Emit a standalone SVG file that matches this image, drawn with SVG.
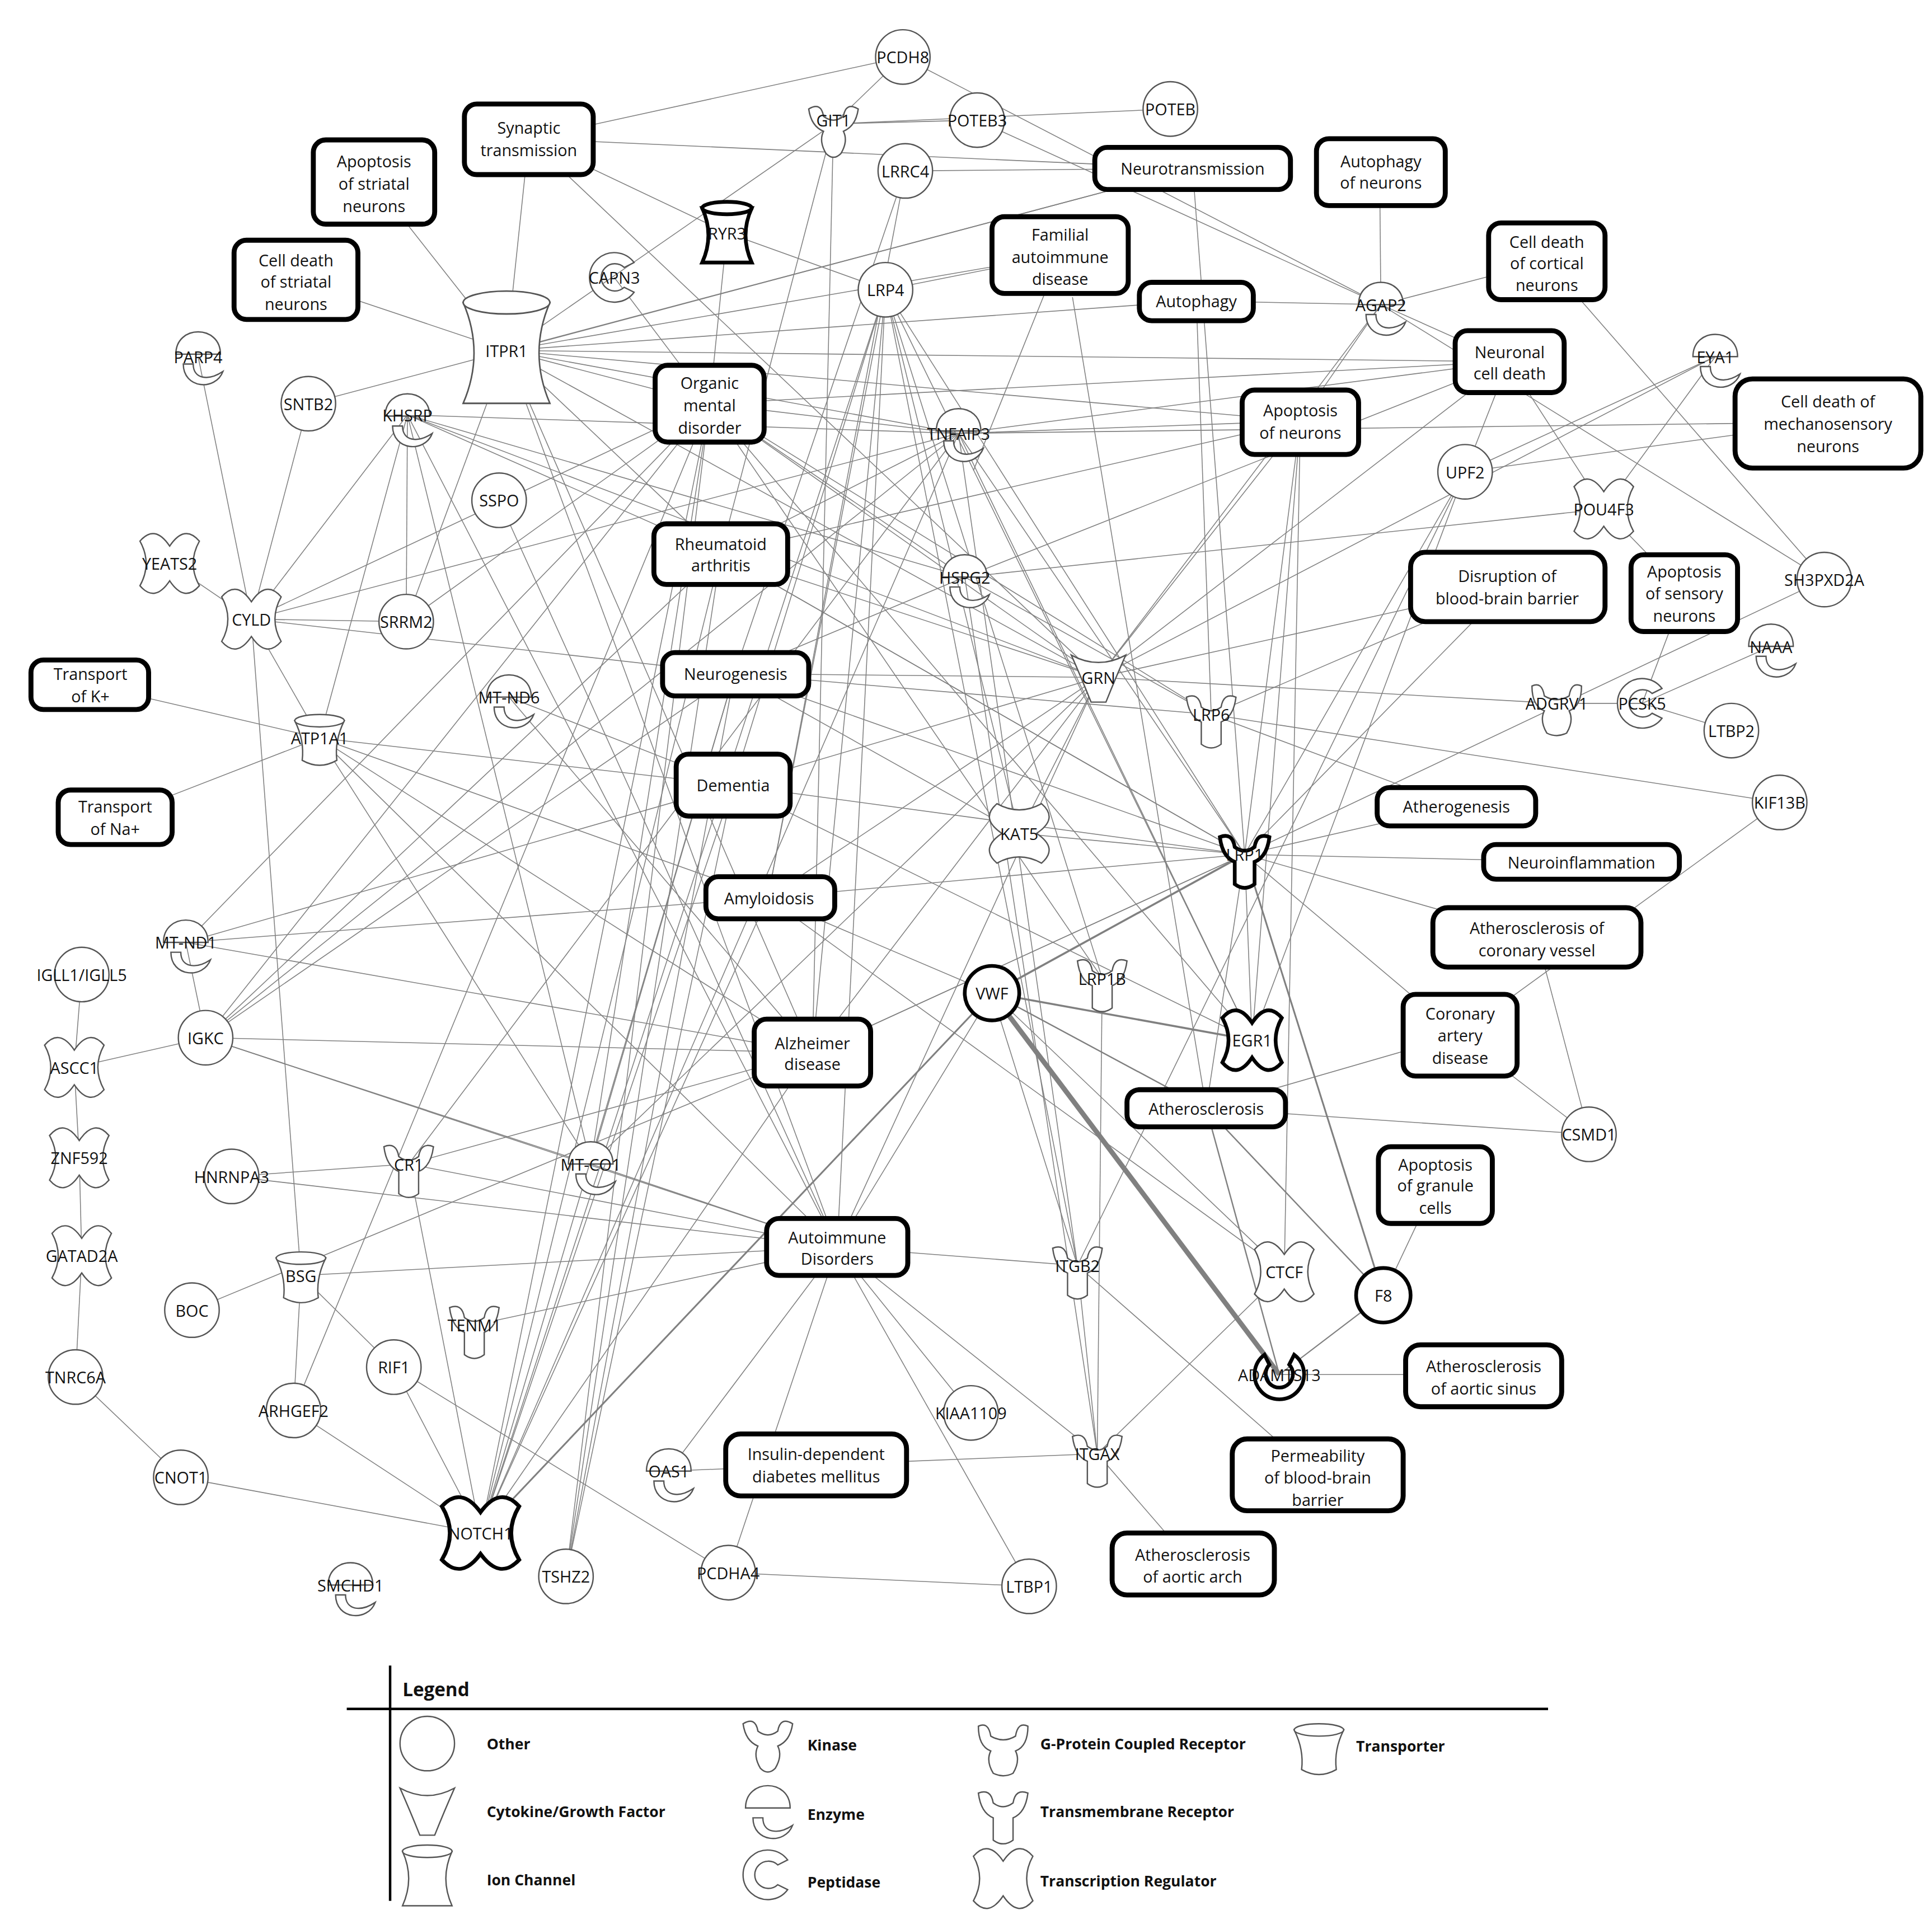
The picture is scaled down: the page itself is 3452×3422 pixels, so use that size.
<svg xmlns="http://www.w3.org/2000/svg" width="3452" height="3422" viewBox="0 0 3452 3422">
<style>
.e line{stroke:#808080;stroke-width:0.7;fill:none}
.s use{fill:#fff;stroke:#555;stroke-width:1.1}
.s .b use, .b use{fill:#fff;stroke:#000;stroke-width:3}
.f rect{fill:#fff;stroke:#000;stroke-width:4}
text{font-family:"Open Sans","Liberation Sans",sans-serif;font-size:13px;fill:#111;text-anchor:middle;dominant-baseline:central}
.lg text{font-size:12px;font-weight:bold;text-anchor:start}
</style>
<defs>
<g id="other"><circle r="22"/></g>
<g id="tf"><path d="M-24,-18 Q-12,-32 0,-14 Q12,-32 24,-18 Q14,0 24,18 Q12,32 0,14 Q-12,32 -24,18 Q-14,0 -24,-18 Z"/></g>
<g id="enz"><path d="M-18,-2 C-18,-26 18,-26 18,-2 Z"/><path d="M-12,6 C-12,26 14,28 20,12 C8,20 -4,18 -4,6 Z"/></g>
<g id="ion"><path d="M-20,-22 Q-10,0 -20,22 L20,22 Q10,0 20,-22 Z"/><ellipse cx="0" cy="-22" rx="20" ry="5"/></g>
<g id="trp"><path d="M-20,-16 L20,-16 Q12,0 14,16 Q0,24 -14,16 Q-12,0 -20,-16 Z"/><ellipse cx="0" cy="-16" rx="20" ry="5"/></g>
<g id="kin"><path d="M-20,-16 Q-10,-22 -8,-10 Q0,-4 8,-10 Q10,-22 20,-16 Q18,-2 8,2 Q12,10 6,20 Q0,26 -6,20 Q-12,10 -8,2 Q-18,-2 -20,-16 Z"/></g>
<g id="tm"><path d="M-20,-16 Q-10,-20 -8,-8 Q0,-2 8,-8 Q10,-20 20,-16 Q18,0 8,4 L8,22 Q0,28 -8,22 L-8,4 Q-18,0 -20,-16 Z"/></g>
<g id="gpcr"><path d="M-20,-16 Q-12,-20 -10,-8 Q0,-2 10,-8 Q12,-20 20,-16 Q20,0 10,4 Q14,12 8,22 Q0,26 -8,22 Q-14,12 -10,4 Q-20,0 -20,-16 Z"/></g>
<g id="pep"><path d="M16,-12 A20,20 0 1 0 16,12 L8,8 A11,11 0 1 1 8,-8 Z"/></g>
<g id="cyt"><path d="M-22,-18 Q0,-6 22,-18 Q14,0 6,20 L-6,20 Q-14,0 -22,-18 Z"/></g>
</defs>
<rect width="3452" height="3422" fill="#fff"/>
<g transform="scale(2.2128)">
<g id="connectors" class="e">
<line x1="729" y1="46" x2="427" y2="112"/><line x1="729" y1="46" x2="1115" y2="246"/><line x1="729" y1="46" x2="673" y2="100"/>
<line x1="673" y1="100" x2="789" y2="97"/><line x1="673" y1="100" x2="409" y2="283"/><line x1="673" y1="100" x2="945" y2="88"/>
<line x1="427" y1="112" x2="963" y2="136"/><line x1="427" y1="112" x2="409" y2="283"/><line x1="427" y1="112" x2="887" y2="547"/><line x1="427" y1="112" x2="587" y2="188"/>
<line x1="789" y1="97" x2="1115" y2="246"/><line x1="963" y1="136" x2="731" y2="138"/><line x1="963" y1="136" x2="409" y2="283"/><line x1="963" y1="136" x2="1005" y2="690"/>
<line x1="302" y1="147" x2="409" y2="283"/><line x1="239" y1="226" x2="409" y2="283"/><line x1="249" y1="326" x2="963" y2="136"/>
<line x1="587" y1="188" x2="715" y2="234"/><line x1="587" y1="188" x2="573" y2="326"/><line x1="496" y1="224" x2="573" y2="326"/>
<line x1="409" y1="283" x2="856" y2="206"/><line x1="409" y1="283" x2="966" y2="243"/><line x1="409" y1="283" x2="1218" y2="292"/><line x1="409" y1="283" x2="1050" y2="340"/>
<line x1="409" y1="283" x2="774" y2="350"/><line x1="409" y1="283" x2="582" y2="447"/><line x1="409" y1="283" x2="328" y2="502"/><line x1="409" y1="283" x2="656" y2="850"/><line x1="409" y1="283" x2="676" y2="1007"/><line x1="409" y1="283" x2="573" y2="326"/><line x1="409" y1="283" x2="887" y2="547"/>
<line x1="715" y1="234" x2="856" y2="206"/><line x1="715" y1="234" x2="656" y2="850"/><line x1="715" y1="234" x2="676" y2="1007"/><line x1="715" y1="234" x2="1005" y2="690"/><line x1="715" y1="234" x2="870" y2="1022"/><line x1="715" y1="234" x2="388" y2="1238"/><line x1="715" y1="234" x2="823" y2="673"/><line x1="715" y1="234" x2="592" y2="634"/><line x1="715" y1="234" x2="620" y2="725"/><line x1="715" y1="234" x2="1011" y2="840"/>
<line x1="731" y1="138" x2="593" y2="544"/><line x1="731" y1="138" x2="620" y2="725"/><line x1="673" y1="100" x2="582" y2="447"/><line x1="673" y1="100" x2="656" y2="850"/>
<line x1="1115" y1="246" x2="966" y2="243"/><line x1="1115" y1="246" x2="1114" y2="138"/><line x1="1115" y1="246" x2="1249" y2="211"/><line x1="1115" y1="246" x2="1218" y2="292"/><line x1="1115" y1="246" x2="1050" y2="340"/><line x1="1115" y1="246" x2="887" y2="547"/><line x1="1115" y1="246" x2="1473" y2="468"/>
<line x1="1218" y1="292" x2="1183" y2="381"/><line x1="1218" y1="292" x2="1295" y2="411"/><line x1="1218" y1="292" x2="573" y2="326"/><line x1="1218" y1="292" x2="774" y2="350"/><line x1="1218" y1="292" x2="887" y2="547"/>
<line x1="1385" y1="288" x2="1183" y2="381"/><line x1="1385" y1="288" x2="1295" y2="411"/><line x1="1385" y1="288" x2="887" y2="547"/>
<line x1="1183" y1="381" x2="1005" y2="690"/><line x1="1183" y1="381" x2="870" y2="1022"/><line x1="1183" y1="381" x2="1476" y2="341"/><line x1="1295" y1="411" x2="1360" y2="478"/><line x1="1295" y1="411" x2="779" y2="466"/>
<line x1="1473" y1="468" x2="1249" y2="211"/><line x1="1473" y1="468" x2="1005" y2="690"/><line x1="1437" y1="648" x2="1178" y2="836"/>
<line x1="1326" y1="568" x2="1430" y2="522"/><line x1="1326" y1="568" x2="1398" y2="590"/><line x1="1326" y1="568" x2="1257" y2="568"/><line x1="1326" y1="568" x2="1360" y2="478"/><line x1="1257" y1="568" x2="887" y2="547"/>
<line x1="978" y1="577" x2="1437" y2="648"/><line x1="978" y1="577" x2="593" y2="544"/><line x1="978" y1="577" x2="573" y2="326"/><line x1="978" y1="577" x2="1176" y2="651"/><line x1="978" y1="577" x2="1217" y2="474"/>
<line x1="1005" y1="690" x2="1176" y2="651"/><line x1="1005" y1="690" x2="1277" y2="696"/><line x1="1005" y1="690" x2="1241" y2="757"/><line x1="1005" y1="690" x2="1178" y2="836"/><line x1="1005" y1="690" x2="1011" y2="840"/><line x1="1005" y1="690" x2="974" y2="895"/><line x1="1005" y1="690" x2="823" y2="673"/><line x1="1005" y1="690" x2="592" y2="634"/><line x1="1005" y1="690" x2="620" y2="725"/><line x1="1005" y1="690" x2="656" y2="850"/><line x1="1005" y1="690" x2="582" y2="447"/><line x1="1005" y1="690" x2="1217" y2="474"/><line x1="1005" y1="690" x2="1050" y2="340"/>
<line x1="801" y1="802" x2="974" y2="895"/><line x1="801" y1="802" x2="676" y2="1007"/><line x1="801" y1="802" x2="870" y2="1022"/><line x1="801" y1="802" x2="1037" y2="1027"/><line x1="801" y1="802" x2="620" y2="725"/>
<line x1="974" y1="895" x2="1283" y2="916"/><line x1="974" y1="895" x2="1178" y2="836"/><line x1="1117" y1="1046" x2="1159" y2="957"/><line x1="1033" y1="1110" x2="1197" y2="1110"/>
<line x1="1283" y1="916" x2="1241" y2="757"/><line x1="1283" y1="916" x2="1178" y2="836"/>
<line x1="870" y1="1022" x2="1064" y2="1192"/><line x1="870" y1="1022" x2="676" y2="1007"/><line x1="870" y1="1022" x2="886" y2="1174"/>
<line x1="886" y1="1174" x2="659" y2="1183"/><line x1="886" y1="1174" x2="963" y2="1263"/><line x1="886" y1="1174" x2="676" y2="1007"/><line x1="886" y1="1174" x2="1037" y2="1027"/><line x1="886" y1="1174" x2="779" y2="466"/>
<line x1="676" y1="1007" x2="330" y2="940"/><line x1="676" y1="1007" x2="477" y2="940"/><line x1="676" y1="1007" x2="243" y2="1030"/><line x1="676" y1="1007" x2="187" y2="950"/><line x1="676" y1="1007" x2="166" y2="838"/><line x1="676" y1="1007" x2="831" y2="1281"/><line x1="676" y1="1007" x2="784" y2="1141"/><line x1="676" y1="1007" x2="540" y2="1188"/><line x1="676" y1="1007" x2="383" y2="1070"/><line x1="676" y1="1007" x2="887" y2="547"/><line x1="676" y1="1007" x2="403" y2="404"/><line x1="676" y1="1007" x2="329" y2="335"/>
<line x1="540" y1="1188" x2="659" y2="1183"/><line x1="588" y1="1270" x2="831" y2="1281"/><line x1="588" y1="1270" x2="318" y2="1104"/><line x1="588" y1="1270" x2="676" y2="1007"/>
<line x1="388" y1="1238" x2="146" y2="1193"/><line x1="388" y1="1238" x2="318" y2="1104"/><line x1="388" y1="1238" x2="330" y2="940"/><line x1="388" y1="1238" x2="237" y2="1139"/><line x1="388" y1="1238" x2="573" y2="326"/><line x1="388" y1="1238" x2="582" y2="447"/><line x1="388" y1="1238" x2="593" y2="544"/><line x1="388" y1="1238" x2="592" y2="634"/><line x1="388" y1="1238" x2="620" y2="725"/><line x1="388" y1="1238" x2="656" y2="850"/><line x1="388" y1="1238" x2="774" y2="350"/>
<line x1="457" y1="1273" x2="573" y2="326"/><line x1="457" y1="1273" x2="582" y2="447"/><line x1="457" y1="1273" x2="593" y2="544"/><line x1="457" y1="1273" x2="592" y2="634"/>
<line x1="243" y1="1030" x2="318" y2="1104"/><line x1="243" y1="1030" x2="237" y2="1139"/><line x1="243" y1="1030" x2="203" y2="500"/><line x1="155" y1="1058" x2="656" y2="850"/><line x1="237" y1="1139" x2="573" y2="326"/>
<line x1="61" y1="1112" x2="146" y2="1193"/><line x1="61" y1="1112" x2="66" y2="1014"/><line x1="66" y1="1014" x2="64" y2="935"/><line x1="64" y1="935" x2="60" y2="862"/><line x1="60" y1="862" x2="66" y2="787"/><line x1="60" y1="862" x2="166" y2="838"/>
<line x1="166" y1="838" x2="150" y2="761"/><line x1="166" y1="838" x2="656" y2="850"/><line x1="166" y1="838" x2="477" y2="940"/><line x1="166" y1="838" x2="573" y2="326"/><line x1="166" y1="838" x2="582" y2="447"/><line x1="166" y1="838" x2="593" y2="544"/><line x1="166" y1="838" x2="774" y2="350"/>
<line x1="150" y1="761" x2="620" y2="725"/><line x1="150" y1="761" x2="592" y2="634"/><line x1="150" y1="761" x2="656" y2="850"/><line x1="150" y1="761" x2="573" y2="326"/>
<line x1="258" y1="596" x2="73" y2="553"/><line x1="258" y1="596" x2="93" y2="660"/><line x1="258" y1="596" x2="592" y2="634"/><line x1="258" y1="596" x2="620" y2="725"/><line x1="258" y1="596" x2="656" y2="850"/><line x1="258" y1="596" x2="203" y2="500"/><line x1="258" y1="596" x2="329" y2="335"/><line x1="258" y1="596" x2="676" y2="1007"/><line x1="258" y1="596" x2="477" y2="940"/>
<line x1="203" y1="500" x2="137" y2="455"/><line x1="203" y1="500" x2="160" y2="288"/><line x1="203" y1="500" x2="249" y2="326"/><line x1="203" y1="500" x2="328" y2="502"/><line x1="203" y1="500" x2="329" y2="335"/><line x1="203" y1="500" x2="573" y2="326"/><line x1="203" y1="500" x2="774" y2="350"/><line x1="203" y1="500" x2="593" y2="544"/>
<line x1="328" y1="502" x2="573" y2="326"/><line x1="328" y1="502" x2="329" y2="335"/>
<line x1="329" y1="335" x2="774" y2="350"/><line x1="329" y1="335" x2="582" y2="447"/><line x1="329" y1="335" x2="887" y2="547"/><line x1="329" y1="335" x2="779" y2="466"/><line x1="329" y1="335" x2="477" y2="940"/>
<line x1="411" y1="563" x2="592" y2="634"/><line x1="411" y1="563" x2="656" y2="850"/>
<line x1="779" y1="466" x2="573" y2="326"/><line x1="779" y1="466" x2="593" y2="544"/><line x1="779" y1="466" x2="978" y2="577"/><line x1="779" y1="466" x2="1218" y2="292"/>
<line x1="774" y1="350" x2="573" y2="326"/><line x1="774" y1="350" x2="582" y2="447"/><line x1="774" y1="350" x2="1050" y2="340"/><line x1="774" y1="350" x2="1005" y2="690"/><line x1="774" y1="350" x2="870" y2="1022"/><line x1="774" y1="350" x2="1011" y2="840"/><line x1="774" y1="350" x2="1476" y2="341"/><line x1="774" y1="350" x2="330" y2="940"/>
<line x1="887" y1="547" x2="573" y2="326"/><line x1="887" y1="547" x2="582" y2="447"/><line x1="887" y1="547" x2="593" y2="544"/><line x1="887" y1="547" x2="592" y2="634"/><line x1="887" y1="547" x2="620" y2="725"/><line x1="887" y1="547" x2="656" y2="850"/><line x1="887" y1="547" x2="1050" y2="340"/><line x1="887" y1="547" x2="1217" y2="474"/><line x1="887" y1="547" x2="477" y2="940"/>
<line x1="823" y1="673" x2="887" y2="547"/><line x1="823" y1="673" x2="593" y2="544"/><line x1="890" y1="790" x2="573" y2="326"/><line x1="890" y1="790" x2="715" y2="234"/><line x1="890" y1="790" x2="886" y2="1174"/>
<line x1="1011" y1="840" x2="1050" y2="340"/><line x1="1011" y1="840" x2="573" y2="326"/><line x1="1011" y1="840" x2="1183" y2="381"/>
<line x1="582" y1="447" x2="1050" y2="340"/><line x1="582" y1="447" x2="1005" y2="690"/><line x1="593" y1="544" x2="1005" y2="690"/><line x1="592" y1="634" x2="1011" y2="840"/><line x1="620" y1="725" x2="1037" y2="1027"/><line x1="656" y1="850" x2="1005" y2="690"/>
<line x1="330" y1="940" x2="656" y2="850"/><line x1="477" y1="940" x2="573" y2="326"/><line x1="477" y1="940" x2="593" y2="544"/><line x1="330" y1="940" x2="187" y2="950"/>
<line x1="856" y1="206" x2="786" y2="380"/><line x1="866" y1="240" x2="974" y2="895"/><line x1="966" y1="243" x2="978" y2="577"/><line x1="1050" y1="340" x2="1037" y2="1027"/>
<g style="stroke:#000">
<line x1="801" y1="802" x2="1005" y2="690" style="stroke-width:1.6"/>
<line x1="801" y1="802" x2="1011" y2="840" style="stroke-width:1.6"/>
<line x1="801" y1="802" x2="1033" y2="1110" style="stroke-width:4"/>
<line x1="1005" y1="690" x2="1117" y2="1046" style="stroke-width:1.4"/>
<line x1="801" y1="802" x2="388" y2="1238" style="stroke-width:1.4"/>
<line x1="801" y1="802" x2="974" y2="895" style="stroke-width:1.1"/>
<line x1="974" y1="895" x2="1033" y2="1110" style="stroke-width:1.1"/>
<line x1="974" y1="895" x2="1117" y2="1046" style="stroke-width:1.1"/>
<line x1="1117" y1="1046" x2="1033" y2="1110" style="stroke-width:1"/>
</g>
</g>
<g id="genes" class="s">
<g id="n-PCDH8"><use href="#other" x="729" y="46"/><text x="729" y="46">PCDH8</text></g>
<g id="n-GIT1"><use href="#kin" x="673" y="104"/><text x="673" y="97">GIT1</text></g>
<g id="n-POTEB3"><use href="#other" x="789" y="97"/><text x="789" y="97">POTEB3</text></g>
<g id="n-POTEB"><use href="#other" x="945" y="88"/><text x="945" y="88">POTEB</text></g>
<g id="n-LRRC4"><use href="#other" x="731" y="138"/><text x="731" y="138">LRRC4</text></g>
<g id="n-RYR3" class="b"><use href="#ion" x="587" y="190"/><text x="587" y="188">RYR3</text></g>
<g id="n-CAPN3"><use href="#pep" x="496" y="224"/><text x="496" y="224">CAPN3</text></g>
<g id="n-LRP4"><use href="#other" x="715" y="234"/><text x="715" y="234">LRP4</text></g>
<g id="n-ITPR1"><use href="#ion" transform="translate(409,285) scale(1.75,1.85)" style="stroke-width:0.7"/><text x="409" y="283">ITPR1</text></g>
<g id="n-PARP4"><use href="#enz" x="160" y="288"/><text x="160" y="288">PARP4</text></g>
<g id="n-SNTB2"><use href="#other" x="249" y="326"/><text x="249" y="326">SNTB2</text></g>
<g id="n-KHSRP"><use href="#enz" x="329" y="338"/><text x="329" y="335">KHSRP</text></g>
<g id="n-SSPO"><use href="#other" x="403" y="404"/><text x="403" y="404">SSPO</text></g>
<g id="n-TNFAIP3"><use href="#enz" x="774" y="350"/><text x="774" y="350">TNFAIP3</text></g>
<g id="n-AGAP2"><use href="#enz" x="1115" y="248"/><text x="1115" y="246">AGAP2</text></g>
<g id="n-EYA1"><use href="#enz" x="1385" y="290"/><text x="1385" y="288">EYA1</text></g>
<g id="n-UPF2"><use href="#other" x="1183" y="381"/><text x="1183" y="381">UPF2</text></g>
<g id="n-POU4F3"><use href="#tf" x="1295" y="411"/><text x="1295" y="411">POU4F3</text></g>
<g id="n-SH3PXD2A"><use href="#other" x="1473" y="468"/><text x="1473" y="468">SH3PXD2A</text></g>
<g id="n-NAAA"><use href="#enz" x="1430" y="524"/><text x="1430" y="522">NAAA</text></g>
<g id="n-PCSK5"><use href="#pep" x="1326" y="568"/><text x="1326" y="568">PCSK5</text></g>
<g id="n-LTBP2"><use href="#other" x="1398" y="590"/><text x="1398" y="590">LTBP2</text></g>
<g id="n-ADGRV1"><use href="#gpcr" x="1257" y="570"/><text x="1257" y="568">ADGRV1</text></g>
<g id="n-KIF13B"><use href="#other" x="1437" y="648"/><text x="1437" y="648">KIF13B</text></g>
<g id="n-HSPG2"><use href="#enz" x="779" y="468"/><text x="779" y="466">HSPG2</text></g>
<g id="n-GRN"><use href="#cyt" x="887" y="547"/><text x="887" y="547">GRN</text></g>
<g id="n-LRP6"><use href="#tm" x="978" y="579"/><text x="978" y="577">LRP6</text></g>
<g id="n-KAT5"><use href="#tf" transform="translate(823,673) rotate(90)"/><text x="823" y="673">KAT5</text></g>
<g id="n-LRP1" class="b"><use href="#tm" x="1005" y="692"/><text x="1005" y="690">LRP1</text></g>
<g id="n-LRP1B"><use href="#tm" x="890" y="792"/><text x="890" y="790">LRP1B</text></g>
<g id="n-VWF" class="b"><use href="#other" x="801" y="802"/><text x="801" y="802">VWF</text></g>
<g id="n-EGR1" class="b"><use href="#tf" x="1011" y="840"/><text x="1011" y="840">EGR1</text></g>
<g id="n-MT-ND6"><use href="#enz" x="411" y="565"/><text x="411" y="563">MT-ND6</text></g>
<g id="n-YEATS2"><use href="#tf" x="137" y="455"/><text x="137" y="455">YEATS2</text></g>
<g id="n-CYLD"><use href="#tf" x="203" y="500"/><text x="203" y="500">CYLD</text></g>
<g id="n-SRRM2"><use href="#other" x="328" y="502"/><text x="328" y="502">SRRM2</text></g>
<g id="n-ATP1A1"><use href="#trp" x="258" y="598"/><text x="258" y="596">ATP1A1</text></g>
<g id="n-MT-ND1"><use href="#enz" x="150" y="763"/><text x="150" y="761">MT-ND1</text></g>
<g id="n-IGLL1"><use href="#other" x="66" y="787"/><text x="66" y="787">IGLL1/IGLL5</text></g>
<g id="n-IGKC"><use href="#other" x="166" y="838"/><text x="166" y="838">IGKC</text></g>
<g id="n-ASCC1"><use href="#tf" x="60" y="862"/><text x="60" y="862">ASCC1</text></g>
<g id="n-ZNF592"><use href="#tf" x="64" y="935"/><text x="64" y="935">ZNF592</text></g>
<g id="n-GATAD2A"><use href="#tf" x="66" y="1014"/><text x="66" y="1014">GATAD2A</text></g>
<g id="n-TNRC6A"><use href="#other" x="61" y="1112"/><text x="61" y="1112">TNRC6A</text></g>
<g id="n-CNOT1"><use href="#other" x="146" y="1193"/><text x="146" y="1193">CNOT1</text></g>
<g id="n-HNRNPA3"><use href="#other" x="187" y="950"/><text x="187" y="950">HNRNPA3</text></g>
<g id="n-CR1"><use href="#tm" x="330" y="942"/><text x="330" y="940">CR1</text></g>
<g id="n-MT-CO1"><use href="#enz" x="477" y="942"/><text x="477" y="940">MT-CO1</text></g>
<g id="n-BSG"><use href="#trp" x="243" y="1032"/><text x="243" y="1030">BSG</text></g>
<g id="n-BOC"><use href="#other" x="155" y="1058"/><text x="155" y="1058">BOC</text></g>
<g id="n-RIF1"><use href="#other" x="318" y="1104"/><text x="318" y="1104">RIF1</text></g>
<g id="n-TENM1"><use href="#tm" x="383" y="1072"/><text x="383" y="1070">TENM1</text></g>
<g id="n-ARHGEF2"><use href="#other" x="237" y="1139"/><text x="237" y="1139">ARHGEF2</text></g>
<g id="n-SMCHD1"><use href="#enz" x="283" y="1282"/><text x="283" y="1280">SMCHD1</text></g>
<g id="n-NOTCH1" class="b"><use href="#tf" transform="translate(388,1238) scale(1.3,1.2)" style="stroke-width:2.5"/><text x="388" y="1238">NOTCH1</text></g>
<g id="n-TSHZ2"><use href="#other" x="457" y="1273"/><text x="457" y="1273">TSHZ2</text></g>
<g id="n-OAS1"><use href="#enz" x="540" y="1190"/><text x="540" y="1188">OAS1</text></g>
<g id="n-PCDHA4"><use href="#other" x="588" y="1270"/><text x="588" y="1270">PCDHA4</text></g>
<g id="n-KIAA1109"><use href="#other" x="784" y="1141"/><text x="784" y="1141">KIAA1109</text></g>
<g id="n-LTBP1"><use href="#other" x="831" y="1281"/><text x="831" y="1281">LTBP1</text></g>
<g id="n-ITGAX"><use href="#tm" x="886" y="1176"/><text x="886" y="1174">ITGAX</text></g>
<g id="n-ITGB2"><use href="#tm" x="870" y="1024"/><text x="870" y="1022">ITGB2</text></g>
<g id="n-CTCF"><use href="#tf" x="1037" y="1027"/><text x="1037" y="1027">CTCF</text></g>
<g id="n-F8" class="b"><use href="#other" x="1117" y="1046"/><text x="1117" y="1046">F8</text></g>
<g id="n-ADAMTS13" class="b"><use href="#pep" transform="translate(1033,1110) rotate(-90)"/><text x="1033" y="1110">ADAMTS13</text></g>
<g id="n-CSMD1"><use href="#other" x="1283" y="916"/><text x="1283" y="916">CSMD1</text></g>
</g>
<g id="functions" class="f">
<g id="f-syn"><rect x="375" y="84" width="104" height="57" rx="10"/><text x="427" y="103">Synaptic</text><text x="427" y="121">transmission</text></g>
<g id="f-aps"><rect x="253" y="113" width="98" height="68" rx="10"/><text x="302" y="130">Apoptosis</text><text x="302" y="148">of striatal</text><text x="302" y="166">neurons</text></g>
<g id="f-cds"><rect x="189" y="194" width="100" height="64" rx="10"/><text x="239" y="210">Cell death</text><text x="239" y="227">of striatal</text><text x="239" y="245">neurons</text></g>
<g id="f-nt"><rect x="884" y="119" width="158" height="34" rx="10"/><text x="963" y="136">Neurotransmission</text></g>
<g id="f-an"><rect x="1063" y="112" width="104" height="54" rx="10"/><text x="1115" y="130">Autophagy</text><text x="1115" y="147">of neurons</text></g>
<g id="f-fam"><rect x="801" y="175" width="110" height="62" rx="10"/><text x="856" y="189">Familial</text><text x="856" y="207">autoimmune</text><text x="856" y="225">disease</text></g>
<g id="f-aut"><rect x="920" y="228" width="92" height="31" rx="10"/><text x="966" y="243">Autophagy</text></g>
<g id="f-cdc"><rect x="1202" y="180" width="94" height="62" rx="10"/><text x="1249" y="195">Cell death</text><text x="1249" y="212">of cortical</text><text x="1249" y="230">neurons</text></g>
<g id="f-ncd"><rect x="1175" y="267" width="88" height="50" rx="10"/><text x="1219" y="284">Neuronal</text><text x="1219" y="301">cell death</text></g>
<g id="f-omd"><rect x="529" y="295" width="88" height="62" rx="10"/><text x="573" y="309">Organic</text><text x="573" y="327">mental</text><text x="573" y="345">disorder</text></g>
<g id="f-apn"><rect x="1003" y="315" width="94" height="52" rx="10"/><text x="1050" y="331">Apoptosis</text><text x="1050" y="349">of neurons</text></g>
<g id="f-mech"><rect x="1401" y="306" width="150" height="72" rx="14"/><text x="1476" y="324">Cell death of</text><text x="1476" y="342">mechanosensory</text><text x="1476" y="360">neurons</text></g>
<g id="f-ra"><rect x="528" y="423" width="108" height="49" rx="10"/><text x="582" y="439">Rheumatoid</text><text x="582" y="456">arthritis</text></g>
<g id="f-dbbb"><rect x="1139" y="446" width="157" height="56" rx="12"/><text x="1217" y="465">Disruption of</text><text x="1217" y="483">blood-brain barrier</text></g>
<g id="f-aps2"><rect x="1317" y="448" width="86" height="62" rx="10"/><text x="1360" y="461">Apoptosis</text><text x="1360" y="479">of sensory</text><text x="1360" y="497">neurons</text></g>
<g id="f-ng"><rect x="535" y="527" width="118" height="35" rx="10"/><text x="594" y="544">Neurogenesis</text></g>
<g id="f-tk"><rect x="25" y="533" width="95" height="40" rx="10"/><text x="73" y="544">Transport</text><text x="73" y="562">of K+</text></g>
<g id="f-dem"><rect x="546" y="609" width="92" height="50" rx="10"/><text x="592" y="634">Dementia</text></g>
<g id="f-tna"><rect x="47" y="638" width="92" height="44" rx="10"/><text x="93" y="651">Transport</text><text x="93" y="669">of Na+</text></g>
<g id="f-athg"><rect x="1112" y="636" width="128" height="31" rx="10"/><text x="1176" y="651">Atherogenesis</text></g>
<g id="f-ni"><rect x="1198" y="682" width="158" height="28" rx="10"/><text x="1277" y="696">Neuroinflammation</text></g>
<g id="f-amy"><rect x="570" y="708" width="104" height="34" rx="10"/><text x="621" y="725">Amyloidosis</text></g>
<g id="f-acv"><rect x="1157" y="733" width="168" height="48" rx="12"/><text x="1241" y="749">Atherosclerosis of</text><text x="1241" y="767">coronary vessel</text></g>
<g id="f-cad"><rect x="1133" y="803" width="92" height="66" rx="10"/><text x="1179" y="818">Coronary</text><text x="1179" y="836">artery</text><text x="1179" y="854">disease</text></g>
<g id="f-ad"><rect x="609" y="823" width="94" height="54" rx="10"/><text x="656" y="842">Alzheimer</text><text x="656" y="859">disease</text></g>
<g id="f-ath"><rect x="910" y="880" width="128" height="30" rx="10"/><text x="974" y="895">Atherosclerosis</text></g>
<g id="f-apg"><rect x="1113" y="926" width="92" height="62" rx="10"/><text x="1159" y="940">Apoptosis</text><text x="1159" y="957">of granule</text><text x="1159" y="975">cells</text></g>
<g id="f-aid"><rect x="619" y="984" width="114" height="46" rx="10"/><text x="676" y="999">Autoimmune</text><text x="676" y="1016">Disorders</text></g>
<g id="f-aas"><rect x="1135" y="1086" width="126" height="50" rx="12"/><text x="1198" y="1103">Atherosclerosis</text><text x="1198" y="1121">of aortic sinus</text></g>
<g id="f-iddm"><rect x="586" y="1158" width="146" height="50" rx="12"/><text x="659" y="1174">Insulin-dependent</text><text x="659" y="1192">diabetes mellitus</text></g>
<g id="f-pbbb"><rect x="995" y="1162" width="138" height="58" rx="12"/><text x="1064" y="1175">Permeability</text><text x="1064" y="1193">of blood-brain</text><text x="1064" y="1211">barrier</text></g>
<g id="f-aaa"><rect x="898" y="1238" width="131" height="50" rx="12"/><text x="963" y="1255">Atherosclerosis</text><text x="963" y="1273">of aortic arch</text></g>
</g>
<g id="legend" class="lg">
<line x1="280" y1="1380" x2="1250" y2="1380" stroke="#000" stroke-width="2"/>
<line x1="315" y1="1345" x2="315" y2="1535" stroke="#000" stroke-width="2"/>
<text x="325" y="1364" style="font-size:15px">Legend</text>
<g class="s">
<use href="#other" x="345" y="1408"/><use href="#cyt" x="345" y="1462"/><use href="#ion" x="345" y="1517"/>
<use href="#kin" x="620" y="1408"/><use href="#enz" x="620" y="1462"/><use href="#pep" x="620" y="1514"/>
<use href="#gpcr" x="810" y="1410"/><use href="#tm" x="810" y="1464"/><use href="#tf" x="810" y="1517"/>
<use href="#trp" x="1065" y="1413"/>
</g>
<text x="393" y="1408">Other</text><text x="393" y="1463">Cytokine/Growth Factor</text><text x="393" y="1518">Ion Channel</text>
<text x="652" y="1409">Kinase</text><text x="652" y="1465">Enzyme</text><text x="652" y="1520">Peptidase</text>
<text x="840" y="1408">G-Protein Coupled Receptor</text><text x="840" y="1463">Transmembrane Receptor</text><text x="840" y="1519">Transcription Regulator</text>
<text x="1095" y="1410">Transporter</text>
</g>
</g>
</svg>
